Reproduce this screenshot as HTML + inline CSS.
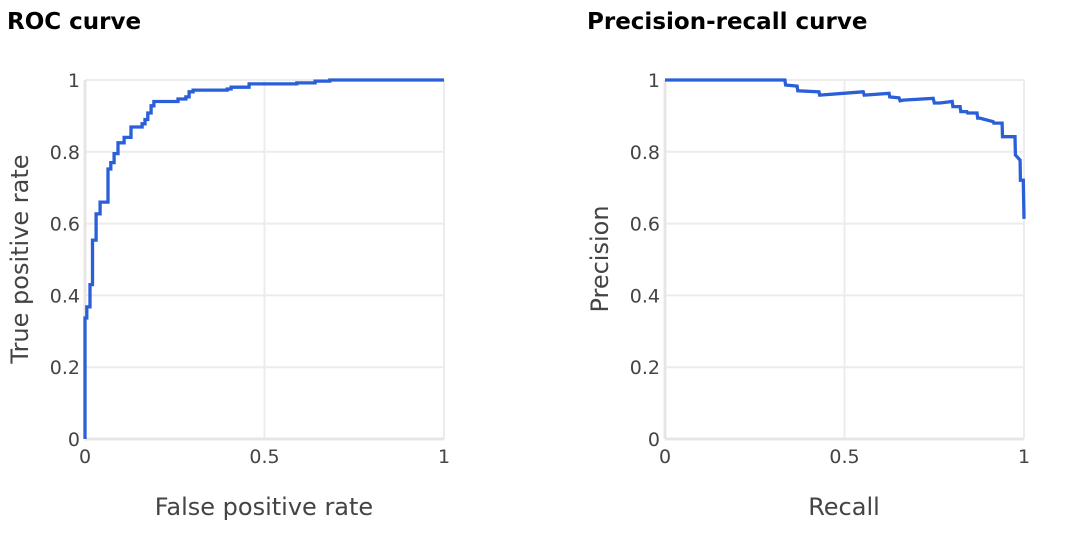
<!DOCTYPE html>
<html><head><meta charset="utf-8"><style>
body{margin:0;background:#fff;width:1072px;height:532px;overflow:hidden;font-family:"DejaVu Sans",sans-serif}
svg text{font-family:"DejaVu Sans","Liberation Sans",sans-serif}
</style></head><body>
<svg id="s" width="1072" height="532"></svg>
<script>
const rocFpr=[0,0,0.003,0.003,0.005,0.005,0.014,0.014,0.021,0.021,0.031,0.031,0.042,0.042,0.064,0.064,0.072,0.072,0.081,0.081,0.092,0.092,0.109,0.109,0.128,0.128,0.159,0.159,0.167,0.167,0.175,0.175,0.184,0.184,0.192,0.192,0.259,0.259,0.281,0.281,0.290,0.290,0.301,0.301,0.396,0.396,0.407,0.407,0.457,0.457,0.59,0.59,0.641,0.641,0.682,0.682,1];
const rocTpr=[0,0.337,0.337,0.337,0.337,0.368,0.368,0.43,0.43,0.554,0.554,0.627,0.627,0.66,0.66,0.752,0.752,0.77,0.77,0.795,0.795,0.825,0.825,0.84,0.84,0.869,0.869,0.878,0.878,0.89,0.89,0.908,0.908,0.928,0.928,0.94,0.94,0.947,0.947,0.953,0.953,0.967,0.967,0.972,0.972,0.975,0.975,0.98,0.98,0.989,0.989,0.992,0.992,0.997,0.997,1,1];
const prRecall=[0,0.334,0.336,0.368,0.370,0.429,0.431,0.552,0.555,0.624,0.626,0.652,0.655,0.663,0.747,0.750,0.766,0.8,0.802,0.822,0.824,0.841,0.843,0.869,0.871,0.877,0.914,0.916,0.939,0.940,0.975,0.976,0.989,0.990,0.998,1.0];
const prPrecision=[1,1,0.986,0.983,0.970,0.967,0.958,0.967,0.958,0.963,0.953,0.950,0.942,0.944,0.949,0.936,0.936,0.94,0.926,0.926,0.912,0.912,0.908,0.908,0.894,0.894,0.884,0.880,0.880,0.842,0.842,0.791,0.777,0.721,0.721,0.613];
const ticks=[0,0.2,0.4,0.6,0.8,1];
const tickLabels=["0","0.2","0.4","0.6","0.8","1"];
const xticks=[0,0.5,1];
const xtickLabels=["0","0.5","1"];
const NS="http://www.w3.org/2000/svg";
const svg=document.getElementById('s');
function mk(tag,attrs,parent,txt){const e=document.createElementNS(NS,tag);for(const k in attrs)e.setAttribute(k,attrs[k]);if(txt!==undefined)e.textContent=txt;(parent||svg).appendChild(e);return e;}
const T=80,B=439;
function chart(x0,title,ytitle,xtitle,xs,ys,name){
  const g=mk('g',{});
  
  
  const sx=v=>x0+v*359, sy=v=>B-v*359;
  xticks.forEach((t,i)=>{if(t>0){const l=mk('line',{x1:sx(t),x2:sx(t),y1:T,y2:B,stroke:'#ececec','stroke-width':2},g);}
    const tx=mk('text',{x:sx(t),y:463,'text-anchor':'middle','font-size':19,fill:'#444'},g,xtickLabels[i]);});
  ticks.forEach((t,i)=>{if(t>0){const l=mk('line',{x1:x0,x2:x0+359,y1:sy(t),y2:sy(t),stroke:'#ececec','stroke-width':2},g);}
    const tx=mk('text',{x:x0-5,y:sy(t)+7,'text-anchor':'end','font-size':19,fill:'#444'},g,tickLabels[i]);});
  const zx=mk('line',{x1:x0,x2:x0+359,y1:B,y2:B,stroke:'#e8e6e4','stroke-width':3},g);
  const zy=mk('line',{x1:x0,x2:x0,y1:T,y2:B,stroke:'#e8e6e4','stroke-width':3},g);
  const d=xs.map((v,i)=>(i?'L':'M')+sx(v).toFixed(1)+','+sy(ys[i]).toFixed(1)).join('');
  const p=mk('path',{d:d,fill:'none',stroke:'#2a5fd8','stroke-width':3.3,'stroke-linejoin':'miter'},g);
  
  
  const tt=mk('text',{x:x0-78,y:29,'font-size':23,'font-weight':'bold',fill:'#000'},g,title);
  
  const xt=mk('text',{x:x0+179,y:515,'text-anchor':'middle','font-size':24,fill:'#444'},g,xtitle);
  
  const yt=mk('text',{x:0,y:0,'text-anchor':'middle','font-size':24,fill:'#444',transform:`translate(${x0-57},259) rotate(-90)`},g,ytitle);
  
}
chart(85,'ROC curve','True positive rate','False positive rate',rocFpr,rocTpr,'roc');
chart(665,'Precision-recall curve','Precision','Recall',prRecall,prPrecision,'pr');
</script>
</body></html>
